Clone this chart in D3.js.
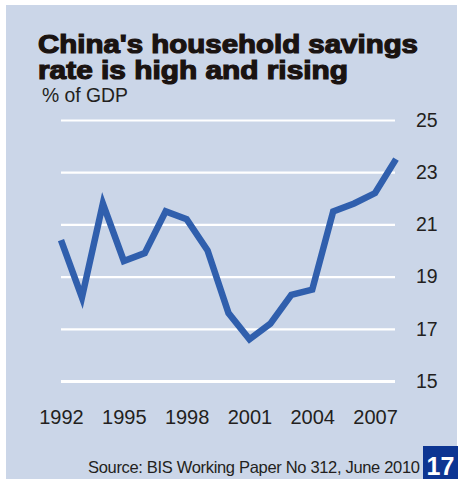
<!DOCTYPE html>
<html>
<head>
<meta charset="utf-8">
<script src="https://cdn.jsdelivr.net/npm/d3@7"></script>
<style>
  html, body { margin: 0; padding: 0; background: #ffffff; }
  svg { display: block; }
</style>
</head>
<body>
<script>
// China household savings rate, % of GDP
const years = [1992, 1993, 1994, 1995, 1996, 1997, 1998, 1999, 2000,
               2001, 2002, 2003, 2004, 2005, 2006, 2007, 2008];
const savingsRate = [20.4, 18.2, 21.8, 19.6, 19.9, 21.5, 21.2, 20.0, 17.6,
                     16.6, 17.2, 18.3, 18.5, 21.5, 21.8, 22.2, 23.5];
const yTicks = [15, 17, 19, 21, 23, 25];
const xTicks = [1992, 1995, 1998, 2001, 2004, 2007];

const W = 458, H = 479;
const svg = d3.select("body").append("svg")
  .attr("width", W).attr("height", H);

// panel background
svg.append("rect")
  .attr("x", 6).attr("y", 5).attr("width", 451).attr("height", H - 5)
  .attr("fill", "#cbd6e8");

const x = d3.scaleLinear().domain([1992, 2008]).range([61, 396]);
const y = d3.scaleLinear().domain([15, 25]).range([381, 120]);

// title
const title = svg.append("g").attr("font-family", "Liberation Sans, Arial, sans-serif")
  .attr("font-weight", "bold").attr("fill", "#1a1311")
  .attr("stroke", "#1a1311").attr("stroke-width", 1.2).attr("paint-order", "stroke");
title.append("text").attr("x", 38).attr("y", 53).attr("font-size", 25.5)
  .attr("textLength", 380).attr("lengthAdjust", "spacingAndGlyphs")
  .text("China's household savings");
title.append("text").attr("x", 38).attr("y", 79).attr("font-size", 25.5)
  .attr("textLength", 310).attr("lengthAdjust", "spacingAndGlyphs")
  .text("rate is high and rising");

svg.append("text").attr("x", 42).attr("y", 101.5)
  .attr("font-family", "Liberation Sans, Arial, sans-serif").attr("font-size", 19.5)
  .attr("fill", "#231f20").attr("textLength", 86).attr("lengthAdjust", "spacingAndGlyphs")
  .text("% of GDP");

// horizontal gridlines (white) with right-hand labels
const yAxis = d3.axisRight(y).tickValues(yTicks).tickSize(x(2008) - 1 - 61)
  .tickFormat(d3.format("d")).tickPadding(21);
const gy = svg.append("g").attr("transform", `translate(61,0)`).call(yAxis);
gy.select(".domain").remove();
gy.selectAll(".tick line").attr("stroke", "#ffffff")
  .attr("stroke-width", d => d === 15 ? 3 : 2.2);
gy.selectAll(".tick text")
  .attr("font-family", "Liberation Sans, Arial, sans-serif").attr("font-size", 19.5)
  .attr("fill", "#231f20");

// x axis labels
const xAxis = d3.axisBottom(x).tickValues(xTicks).tickSize(0)
  .tickFormat(d3.format("d")).tickPadding(0);
const gx = svg.append("g").attr("transform", "translate(0,410)").call(xAxis);
gx.select(".domain").remove();
gx.selectAll(".tick text")
  .attr("font-family", "Liberation Sans, Arial, sans-serif").attr("font-size", 20)
  .attr("fill", "#231f20").attr("dy", "0.71em");

// savings rate line
const line = d3.line().x((d, i) => x(years[i])).y(d => y(d));
svg.append("path").datum(savingsRate)
  .attr("d", line)
  .attr("fill", "none").attr("stroke", "#305fad").attr("stroke-width", 6.5)
  .attr("stroke-linejoin", "miter").attr("stroke-miterlimit", 4);

// source note
svg.append("text").attr("x", 88).attr("y", 472.5)
  .attr("font-family", "Liberation Sans, Arial, sans-serif").attr("font-size", 16.5)
  .attr("fill", "#231f20").attr("textLength", 332).attr("lengthAdjust", "spacing")
  .text("Source: BIS Working Paper No 312, June 2010");

// page number box
svg.append("rect").attr("x", 423).attr("y", 446).attr("width", 35).attr("height", 33)
  .attr("fill", "#0d3592");
svg.append("text").attr("x", 440.5).attr("y", 475).attr("text-anchor", "middle")
  .attr("font-family", "Liberation Sans, Arial, sans-serif").attr("font-weight", "bold")
  .attr("font-size", 25).attr("fill", "#ffffff").text("17");
</script>
</body>
</html>
